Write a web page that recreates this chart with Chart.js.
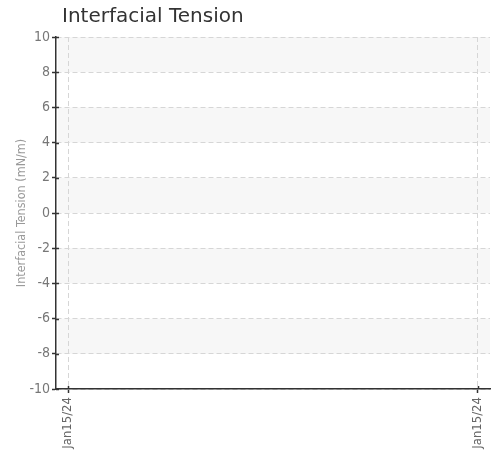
<!DOCTYPE html>
<html>
<head>
<meta charset="utf-8">
<script src="https://cdn.jsdelivr.net/npm/chart.js@4.4.1/dist/chart.umd.min.js"></script>
<style>
  html, body { margin: 0; padding: 0; background: #fff; }
  #wrap { position: relative; width: 498px; height: 451px; }
</style>
</head>
<body>
<div id="wrap"><canvas id="chart"></canvas></div>
<script>
// Data: two dates, no readings plotted
const dateLabels = ["Jan15/24", "Jan15/24"];
const tensionValues = [null, null];
const yTickValues = [-10, -8, -6, -4, -2, 0, 2, 4, 6, 8, 10];

const narrowFont = "'Liberation Sans Narrow', 'DejaVu Sans Condensed', 'Roboto', sans-serif";
const axisColor = "#333";
const gridColor = "#d6d6d6";

// Alternating grey bands between y ticks
const bandPlugin = {
    id: "bands",
    beforeDraw(c) {
        const { ctx, chartArea } = c;
        const y = c.scales.y;
        ctx.save();
        ctx.fillStyle = "#f7f7f7";
        for (let i = 0; i < yTickValues.length - 1; i++) {
            if (i % 2 === 0) continue;
            const top = y.getPixelForValue(yTickValues[i + 1]);
            const bottom = y.getPixelForValue(yTickValues[i]);
            ctx.fillRect(chartArea.left + 2, top, chartArea.right - chartArea.left - 2, bottom - top);
        }
        ctx.restore();
    },
    afterDraw(c) {
        // small tick marks on the inner side of both axes
        const { ctx, chartArea } = c;
        ctx.save();
        ctx.strokeStyle = axisColor;
        ctx.lineWidth = 1.5;
        ctx.beginPath();
        yTickValues.forEach((v) => {
            const py = Math.round(c.scales.y.getPixelForValue(v)) + 0.5;
            ctx.moveTo(chartArea.left, py);
            ctx.lineTo(chartArea.left + 3, py);
        });
        dateLabels.forEach((d, i) => {
            const px = Math.round(c.scales.x.getPixelForValue(i)) + 0.5;
            ctx.moveTo(px, chartArea.bottom);
            ctx.lineTo(px, chartArea.bottom - 3);
        });
        ctx.stroke();
        ctx.restore();
    },
    afterLayout(c) {
        // nudge title a little right of the axis line
        if (c.titleBlock) {
            c.titleBlock.left += 6;
        }
    },
};

const chart = new Chart(document.getElementById("chart"), {
    type: "line",
    data: {
        datasets: [
            {
                label: "Interfacial Tension",
                data: dateLabels.map((d, i) => ({ x: i, y: tensionValues[i] })),
                borderColor: "#1f77b4",
                backgroundColor: "#1f77b4",
                spanGaps: false,
            },
        ],
    },
    options: {
        responsive: true,
        maintainAspectRatio: false,
        animation: false,
        layout: {
            padding: { top: 0, bottom: 0, left: 0, right: 8 },
        },
        scales: {
            x: {
                type: "linear",
                min: -0.0293,
                max: 1.0293,
                afterBuildTicks: (scale) => {
                    scale.ticks = dateLabels.map((d, i) => ({ value: i }));
                },
                afterFit: (scale) => {
                    scale.height = 62;
                },
                ticks: {
                    autoSkip: false,
                    minRotation: 90,
                    maxRotation: 90,
                    padding: 4,
                    color: "#666",
                    font: { family: narrowFont, size: 13 },
                    callback: (value, index) => dateLabels[index],
                },
                grid: {
                    color: gridColor,
                    tickColor: axisColor,
                    tickLength: 4,
                    tickWidth: 1.5,
                },
                border: {
                    display: true,
                    color: axisColor,
                    width: 1.5,
                    dash: [5, 3],
                },
            },
            y: {
                min: -10,
                max: 10,
                afterBuildTicks: (scale) => {
                    scale.ticks = yTickValues.map((v) => ({ value: v }));
                },
                afterFit: (scale) => {
                    scale.width = 56;
                },
                ticks: {
                    padding: 2,
                    color: "#777",
                    font: { family: narrowFont, size: 14 },
                },
                grid: {
                    color: gridColor,
                    tickColor: axisColor,
                    tickLength: 4,
                    tickWidth: 1.5,
                },
                border: {
                    display: true,
                    color: axisColor,
                    width: 1.5,
                    dash: [5, 3],
                },
                title: {
                    display: true,
                    text: "Interfacial Tension (mN/m)",
                    color: "#999",
                    font: { family: narrowFont, size: 12.5 },
                    padding: { top: 14, bottom: 0 },
                },
            },
        },
        plugins: {
            legend: { display: false },
            tooltip: { enabled: false },
            title: {
                display: true,
                text: "Interfacial Tension",
                align: "start",
                fullSize: false,
                color: "#333",
                font: { family: "'DejaVu Sans', Verdana, sans-serif", size: 20, weight: "normal" },
                padding: { top: 5, bottom: 8 },
            },
        },
    },
    plugins: [bandPlugin],
});
</script>
</body>
</html>
